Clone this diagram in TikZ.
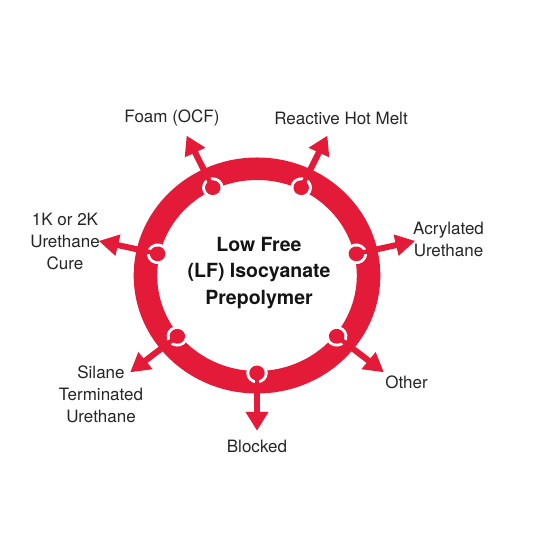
\documentclass[tikz,border=0pt]{standalone}
\usepackage{fontspec}
\setmainfont{TeX Gyre Heros}
\definecolor{ringred}{RGB}{228,27,56}
\definecolor{labelgray}{RGB}{38,38,38}
\begin{document}
\begin{tikzpicture}[x=1pt,y=1pt,
  lbl/.style={font=\fontsize{17}{22}\selectfont, text=labelgray, align=center, inner sep=0pt},
  ctr/.style={font=\fontsize{19.5}{26.5}\selectfont\bfseries, text=black!92, align=center, inner sep=0pt},
  redfill/.style={fill=ringred, draw=none}]
\useasboundingbox[fill=white] (0,0) rectangle (540,540);
\begin{scope}[shift={(257,264.5)}, xscale=1.045]
  \fill[ringred, even odd rule] (0,0) circle (118) (0,0) circle (95.5);
  \foreach \k in {0,...,6} {
    \pgfmathsetmacro{\a}{-90+\k*360/7}
    \begin{scope}[rotate=\a]
      % outward arrow
      \path[redfill] (112,-3) rectangle (139,3);
      \path[redfill] (136.5,-11) -- (155,0) -- (136.5,11) -- cycle;
      % knob on the inner edge
      \fill[white] (97.5,0) circle (10.3);
      \path[redfill] (97.5,0) circle (7.4);
      \path[redfill] (97.5,-2.2) rectangle (110,2.2);
    \end{scope}
  }
\end{scope}
\node[ctr] (centre) at (259,267) {Low Free\\(LF) Isocyanate\\Prepolymer};
\node[lbl] (foam) at (172,422) {Foam (OCF)};
\node[lbl] (hotmelt) at (341,422) {Reactive Hot Melt};
\node[lbl] (onek) at (65,299) {1K or 2K\\Urethane\\Cure};
\node[lbl] (acryl) at (448.5,301) {Acrylated\\Urethane};
\node[lbl] (silane) at (101,146) {Silane\\Terminated\\Urethane};
\node[lbl] (other) at (406.5,158) {Other};
\node[lbl] (blocked) at (257,94) {Blocked};
\end{tikzpicture}
\end{document}
